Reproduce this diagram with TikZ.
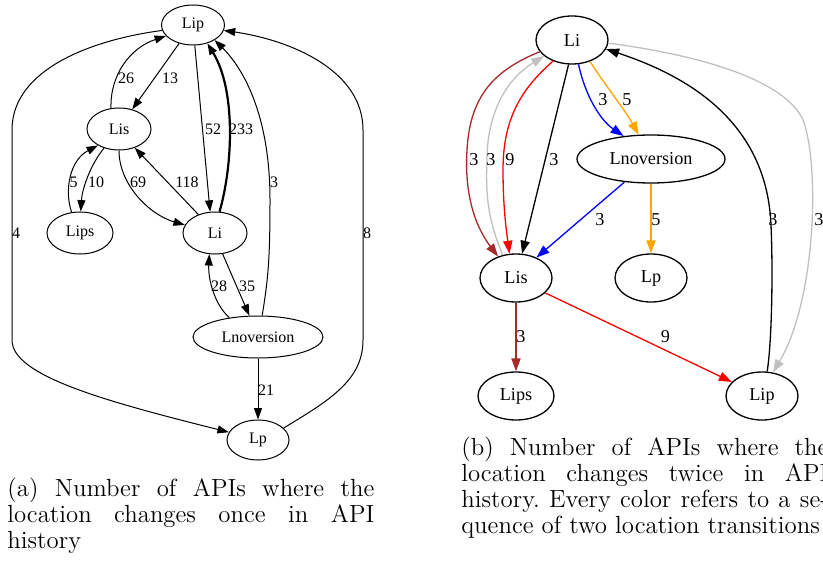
\documentclass[tikz,border=0pt]{standalone}
\usepackage{fontspec}
\newfontfamily\gvfont{Liberation Serif}
\usetikzlibrary{shapes.geometric,arrows.meta}
\definecolor{gvbrown}{RGB}{165,42,42}
\definecolor{gvgray}{RGB}{192,192,192}
\definecolor{gvorange}{RGB}{255,165,0}
\frenchspacing
\begin{document}
\begin{tikzpicture}[x=0.5pt,y=-0.5pt,
  nA/.style={ellipse,draw,line width=0.5pt,inner sep=0pt,font=\gvfont\fontsize{8}{9}\selectfont},
  eA/.style={line width=0.5pt,-{Triangle[length=5.7pt,width=4pt]}},
  lA/.style={font=\gvfont\fontsize{8}{9}\selectfont,inner sep=0pt},
  nB/.style={ellipse,draw,line width=0.65pt,inner sep=0pt,font=\gvfont\fontsize{9.1}{10}\selectfont},
  eB/.style={line width=0.65pt,-{Triangle[length=6.5pt,width=4.6pt]}},
  lB/.style={font=\gvfont\fontsize{9.1}{10}\selectfont,inner sep=0pt},
  capnode/.style={inner sep=0pt,anchor=base west,font=\fontsize{12.4}{13}\selectfont\frenchspacing}
]
\useasboundingbox (0,0) rectangle (823,561);
\clip (0,0) rectangle (823,561);

% ---------- graph (a) ----------
\node[nA,minimum width=31.5pt,minimum height=20pt] (LipA) at (193,25) {Lip};
\node[nA,minimum width=32pt,minimum height=21pt] (LisA) at (119,129) {Lis};
\node[nA,minimum width=33pt,minimum height=21pt] (LipsA) at (80,233) {Lips};
\node[nA,minimum width=32pt,minimum height=21pt] (LiA) at (215,233) {Li};
\node[nA,minimum width=65pt,minimum height=21pt] (LnovA) at (258,337) {Lnoversion};
\node[nA,minimum width=31pt,minimum height=20pt] (LpA) at (258,440) {Lp};

\draw[eA] (LipA.233) -- (LisA.56);
\draw[eA] (LisA.111) .. controls (110,75) and (130,48) .. (LipA.202);
\draw[eA] (LipA.275) -- (LiA.103);
\draw[eA,line width=1.1pt] (LiA.78) .. controls (233,165) and (236,90) .. (LipA.308);
\draw[eA] (LiA.132) -- (LisA.310);
\draw[eA] (LisA.270) .. controls (119,185) and (150,215) .. (LiA.165);
\draw[eA] (LipsA.112) .. controls (64,190) and (70,160) .. (LisA.218);
\draw[eA] (LisA.232) .. controls (90,165) and (82,190) .. (LipsA.88);
\draw[eA] (LnovA.79) .. controls (268,280) and (270,260) .. (270,200) .. controls (270,110) and (240,65) .. (LipA.325);
\draw[eA] (LiA.290) -- (LnovA.112);
\draw[eA] (LnovA.146) .. controls (215,305) and (208,280) .. (LiA.255);
\draw[eA] (LnovA.south) -- (LpA.north);
\draw[eA] (LipA.190) .. controls (90,40) and (12,70) .. (12,130) -- (12,340) .. controls (12,375) and (100,400) .. (LpA.165);
\draw[eA] (LpA.25) .. controls (330,400) and (363,380) .. (363,340) -- (363,130) .. controls (363,70) and (290,40) .. (LipA.350);

\node[lA] (a13) at (170,78) {13};
\node[lA] (a26) at (126,78) {26};
\node[lA] (a52) at (213,129) {52};
\node[lA] (a233) at (241,129) {233};
\node[lA] (a118) at (187,182) {118};
\node[lA] (a69) at (138,182) {69};
\node[lA] (a5) at (73.5,182) {5};
\node[lA] (a10) at (96,182) {10};
\node[lA] (a3) at (274,182) {3};
\node[lA] (a35) at (247,286) {35};
\node[lA] (a28) at (219,286) {28};
\node[lA] (a21) at (266,390) {21};
\node[lA] (a4) at (16,233) {4};
\node[lA] (a8) at (367,233) {8};

% ---------- graph (b) ----------
\node[nB,minimum width=36pt,minimum height=24pt] (LiB) at (572,40) {Li};
\node[nB,minimum width=74pt,minimum height=24pt] (LnovB) at (651,159) {Lnoversion};
\node[nB,minimum width=36pt,minimum height=24pt] (LisB) at (516,278) {Lis};
\node[nB,minimum width=36pt,minimum height=24pt] (LpB) at (651,278) {Lp};
\node[nB,minimum width=38pt,minimum height=24pt] (LipsB) at (516,396) {Lips};
\node[nB,minimum width=36pt,minimum height=24pt] (LipB) at (762,396) {Lip};

\draw[eB,gvbrown] (LiB.200) .. controls (495,70) and (470,95) .. (467,150) .. controls (464,200) and (478,230) .. (LisB.130);
\draw[eB,gvgray] (LisB.120) .. controls (490,225) and (485,200) .. (487,160) .. controls (487,115) and (505,80) .. (LiB.210);
\draw[eB,red] (LiB.228) .. controls (520,90) and (503,120) .. (503,170) .. controls (503,210) and (507,235) .. (LisB.105);
\draw[eB] (LiB.262) -- (LisB.76);
\draw[eB,blue] (LiB.285) .. controls (585,95) and (600,120) .. (LnovB.140);
\draw[eB,gvorange] (LiB.310) .. controls (605,85) and (625,110) .. (LnovB.117);
\draw[eB,blue] (LnovB.221) -- (LisB.45);
\draw[eB,gvorange] (LnovB.south) -- (LpB.north);
\draw[eB,gvbrown] (LisB.south) -- (LipsB.north);
\draw[eB,red] (LisB.333) -- (LipB.155);
\draw[eB] (LipB.78) .. controls (772,340) and (773,270) .. (771,225) .. controls (767,130) and (700,80) .. (LiB.345);
\draw[eB,gvgray] (LiB.355) .. controls (700,55) and (785,80) .. (803,120) .. controls (820,165) and (816,300) .. (LipB.65);

\node[lB] (b1) at (474,160) {3};
\node[lB] (b2) at (491,160) {3};
\node[lB] (b3) at (510,160) {9};
\node[lB] (b4) at (554,160) {3};
\node[lB] (b5) at (603,100) {3};
\node[lB] (b6) at (627,100) {5};
\node[lB] (b7) at (600,220) {3};
\node[lB] (b8) at (656,220) {5};
\node[lB] (b9) at (521,337) {3};
\node[lB] (b10) at (665.5,337) {9};
\node[lB] (b11) at (773,220) {3};
\node[lB] (b12) at (819,220) {3};

% ---------- captions ----------
\node[capnode] (capA) at (7,496) {\parbox[t]{183.5pt}{\frenchspacing (a) Number of APIs where the\linebreak location changes once in API\linebreak history}};
\node[capnode] (capB) at (461,455) {\parbox[t]{183.5pt}{\frenchspacing (b) Number of APIs where the\linebreak location changes twice in API\linebreak history. Every color refers to a se-\linebreak quence of two location transitions}};
\end{tikzpicture}
\end{document}
